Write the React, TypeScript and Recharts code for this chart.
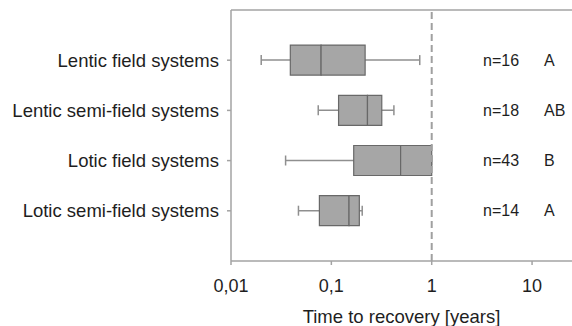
import React from "react";
import {
  ComposedChart,
  Bar,
  XAxis,
  YAxis,
  ReferenceLine,
  Label,
} from "recharts";

// Box plot values (years, log scale)
const categories = [
  "Lentic field systems",
  "Lentic semi-field systems",
  "Lotic field systems",
  "Lotic semi-field systems",
];
const whiskerLow = [0.02, 0.074, 0.035, 0.047];
const quartile1 = [0.039, 0.118, 0.167, 0.076];
const medians = [0.079, 0.229, 0.49, 0.15];
const quartile3 = [0.217, 0.318, 1.0, 0.19];
const whiskerHigh = [0.76, 0.42, 1.0, 0.203];
const nCounts = [16, 18, 43, 14];
const letters = ["A", "AB", "B", "A"];
const xTicks = [0.01, 0.1, 1, 10];
const rowTicks = categories.map((_, i) => i + 1);

const data = categories.map((name, i) => ({
  name,
  row: i + 1,
  whisker: [whiskerLow[i], whiskerHigh[i]],
  lower: [quartile1[i], medians[i]],
  upper: [medians[i], quartile3[i]],
}));

const FONT = "'Liberation Sans', Arial, sans-serif";
const AXIS = "#a3a3a3";
const TEXT = "#1e1e1e";

const WhiskerShape = (props: any) => {
  const { x, y, width, height } = props;
  const cy = y + height / 2;
  const c = "#8f8f8f";
  return (
    <g>
      <line x1={x} y1={cy} x2={x + width} y2={cy} stroke={c} strokeWidth={1.5} />
      <line x1={x} y1={cy - 5} x2={x} y2={cy + 5} stroke={c} strokeWidth={1.5} />
      <line x1={x + width} y1={cy - 5} x2={x + width} y2={cy + 5} stroke={c} strokeWidth={1.5} />
    </g>
  );
};

const CategoryTick = (props: any) => {
  const { x, y, payload } = props;
  const i = payload.value - 1;
  if (i < 0 || i >= categories.length) return null;
  return (
    <g fontFamily={FONT} fill={TEXT}>
      <text x={x} y={y} dy="0.35em" textAnchor="end" fontSize={18.5}>
        {categories[i]}
      </text>
      <text x={x + 264} y={y} dy="0.35em" textAnchor="start" fontSize={16}>
        {"n=" + nCounts[i]}
      </text>
      <text x={x + 325} y={y} dy="0.35em" textAnchor="start" fontSize={16}>
        {letters[i]}
      </text>
    </g>
  );
};

export default function App() {
  return (
    <div style={{ position: "absolute", left: 0, top: 0, width: 572, height: 326, overflow: "hidden", background: "#fff" }}>
      <ComposedChart
        width={572}
        height={326}
        data={data}
        layout="vertical"
        barGap={-30}
        margin={{ top: 10, right: 0, left: 0, bottom: 0 }}
      >
        <XAxis
          type="number"
          scale="log"
          domain={[0.01, 25]}
          allowDataOverflow
          ticks={xTicks}
          tickFormatter={(v: number) => String(v).replace(".", ",")}
          stroke={AXIS}
          strokeWidth={1.5}
          tickSize={4}
          tickMargin={14}
          tick={{ fill: TEXT, fontSize: 18, fontFamily: FONT }}
          height={65}
        >
          <Label
            value="Time to recovery [years]"
            position="insideBottom"
            offset={3}
            fill={TEXT}
            fontSize={18.5}
            fontFamily={FONT}
          />
        </XAxis>
        <YAxis
          type="number"
          dataKey="row"
          domain={[0, categories.length + 1]}
          ticks={rowTicks}
          interval={0}
          width={231}
          stroke={AXIS}
          strokeWidth={1.5}
          tickSize={4}
          tickMargin={8}
          tick={<CategoryTick />}
        />
        <ReferenceLine y={0} stroke={AXIS} strokeWidth={1.5} />
        <ReferenceLine x={1} stroke="#a0a0a0" strokeWidth={2} strokeDasharray="7 4" />
        <Bar dataKey="whisker" barSize={30} shape={<WhiskerShape />} isAnimationActive={false} />
        <Bar dataKey="lower" barSize={30} fill="#a6a6a6" stroke="#686868" strokeWidth={1.2} isAnimationActive={false} />
        <Bar dataKey="upper" barSize={30} fill="#a6a6a6" stroke="#686868" strokeWidth={1.2} isAnimationActive={false} />
      </ComposedChart>
    </div>
  );
}
